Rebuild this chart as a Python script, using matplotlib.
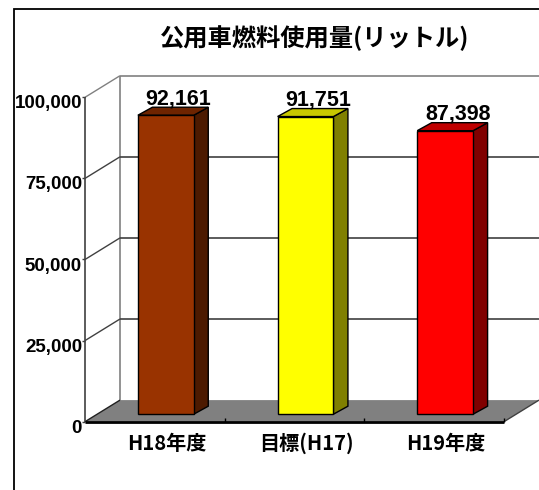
import matplotlib
matplotlib.use('Agg')
import matplotlib.pyplot as plt
from matplotlib.patches import Polygon, Rectangle
from matplotlib.lines import Line2D
from matplotlib.transforms import IdentityTransform
import numpy as np

# ---- data ----
categories = ['H18年度', '目標(H17)', 'H19年度']
values = [92161, 91751, 87398]
value_labels = ['92,161', '91,751', '87,398']
yticks = [0, 25000, 50000, 75000, 100000]
ytick_labels = ['0', '25,000', '50,000', '75,000', '100,000']
title = '公用車燃料使用量(リットル)'
front_colors = ['#993300', '#FFFF00', '#FF0000']
top_colors = ['#6E2400', '#C8C800', '#C00000']
side_colors = ['#4D1A00', '#808000', '#800000']

W, H, DPI = 539, 490, 100
fig = plt.figure(figsize=(W / DPI, H / DPI), dpi=DPI)
fig.patch.set_facecolor('white')

# front plane of the 3-D box (pixels from top-left)
L, R, B, T = 85, 504, 421.7, 97.3
ax = fig.add_axes([L / W, 1 - B / H, (R - L) / W, (B - T) / H])
ax.set_xlim(0, len(categories))
ax.set_ylim(0, 100000)
ax.set_axis_off()

DX, DY = 35, 21.6            # full depth of the box, pixels
BF = (11, 7.5)               # bar front depth offset
BB = (25.5, 15.5)            # bar back depth offset
BAR_HALF = 0.2
ID = IdentityTransform()


def proj(x, y, ox=0.0, oy=0.0):
    px, py = ax.transData.transform((x, y))
    return (px + ox, py + oy)


def line(p0, p1, color='black', lw=1.0, z=2):
    fig.add_artist(Line2D([p0[0], p1[0]], [p0[1], p1[1]], color=color, lw=lw,
                          transform=ID, zorder=z, solid_capstyle='butt'))


def poly(pts, fc, z=3, ec='black', lw=1.0):
    fig.add_artist(Polygon(pts, closed=True, facecolor=fc, edgecolor=ec, lw=lw,
                           transform=ID, zorder=z, joinstyle='miter'))


n = len(categories)
ymax = yticks[-1]

# floor
poly([proj(0, 0), proj(n, 0), proj(n, 0, DX, DY), proj(0, 0, DX, DY)],
     '#808080', z=1, ec='none')
line(proj(0, 0), proj(0, 0, DX, DY), color='#202020', lw=1.0, z=2)
line(proj(n, 0), proj(n, 0, DX, DY), color='#404040', lw=1.0, z=2)

# back wall
line(proj(0, 0, DX, DY), proj(0, ymax, DX, DY), color='#808080', lw=1.2, z=1.5)
for v in yticks[1:]:
    c = '#808080' if v == ymax else '#404040'
    line(proj(0, v, DX, DY), proj(n, v, DX, DY), color=c, lw=1.2, z=1.5)
    line(proj(0, v), proj(0, v, DX, DY), color=c, lw=1.0, z=1.5)

# front y axis
line(proj(0, 0), proj(0, ymax), color='#404040', lw=1.2, z=2)
for v, lab in zip(yticks, ytick_labels):
    p = proj(0, v)
    line((p[0] - 3, p[1]), p, color='#404040', lw=1.0, z=2)
    fig.text(p[0] - 3, p[1] - 11, lab, transform=ID, ha='right', va='baseline',
             fontsize=13.5, fontweight='bold', family=['Liberation Sans', 'DejaVu Sans'],
             color='black', zorder=5)

# front baseline + category ticks
line(proj(0, 0), proj(n, 0), color='black', lw=2.0, z=4)
for k in range(1, n + 1):
    p = proj(k, 0)
    line((p[0], p[1]), (p[0], p[1] + 4), color='black', lw=1.0, z=4)

# bars
for i, (v, fc, tc, sc) in enumerate(zip(values, front_colors, top_colors, side_colors)):
    xl, xr = i + 0.5 - BAR_HALF, i + 0.5 + BAR_HALF
    poly([proj(xr, 0, *BF), proj(xr, 0, *BB), proj(xr, v, *BB), proj(xr, v, *BF)], sc, z=3)
    poly([proj(xl, v, *BF), proj(xr, v, *BF), proj(xr, v, *BB), proj(xl, v, *BB)], tc, z=3)
    poly([proj(xl, 0, *BF), proj(xr, 0, *BF), proj(xr, v, *BF), proj(xl, v, *BF)], fc, z=3)
    pt = proj(i + 0.5, v, BF[0] + 12.5, BF[1] + 11)
    fig.text(pt[0], pt[1], value_labels[i], transform=ID, ha='center', va='baseline',
             fontsize=15.5, fontweight='bold', family=['Liberation Sans', 'DejaVu Sans'],
             color='black', zorder=6)

# category labels
for i, cat in enumerate(categories):
    p = proj(i + 0.5, 0, 12, -28.3)
    fig.text(p[0], p[1], cat, transform=ID, ha='center', va='baseline',
             fontsize=14.5, fontweight='bold', family=['Noto Sans CJK JP', 'DejaVu Sans'],
             color='black', zorder=6)

# title
fig.text(315 / W, 1 - 46 / H, title, ha='center', va='baseline',
         fontsize=17.5, fontweight='bold', family=['Noto Sans CJK JP', 'DejaVu Sans'],
         color='black')

# outer frame
fig.add_artist(Rectangle((13.5, -20), W + 20, H - 8.5 + 20, transform=ID,
                         fill=False, edgecolor='black', lw=1.3, zorder=0.5))

fig.savefig('out.png', dpi=DPI)
